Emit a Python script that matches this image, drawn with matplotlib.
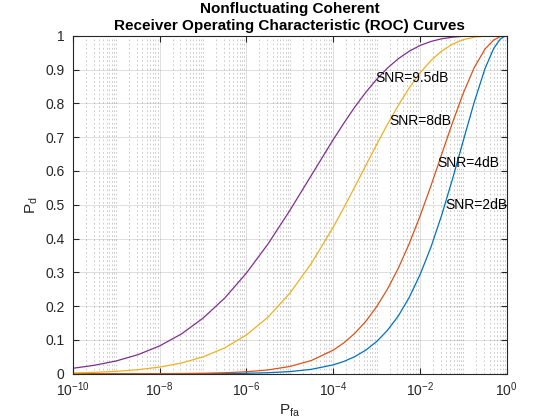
import numpy as np
import matplotlib
matplotlib.use("Agg")
import matplotlib.pyplot as plt

plt.rcParams["font.family"] = ["Liberation Sans", "DejaVu Sans"]
plt.rcParams["mathtext.fontset"] = "custom"
plt.rcParams["mathtext.rm"] = "Liberation Sans"
plt.rcParams["mathtext.it"] = "Liberation Sans:italic"

# false alarm probabilities
pfa = [1e-10, 10**-9.5, 1e-9, 10**-8.5, 1e-8, 10**-7.5, 1e-7, 10**-6.5, 1e-6, 10**-5.5,
       1e-5, 10**-4.5, 1e-4, 10**-3.75, 10**-3.5, 10**-3.25, 1e-3, 10**-2.75, 10**-2.5,
       10**-2.25, 1e-2, 10**-1.75, 10**-1.5, 10**-1.25, 1e-1, 10**-0.75, 10**-0.5,
       0.5, 0.7, 0.9, 0.99, 1.0]

# detection probabilities for each SNR
pd_2db = [0.0, 0.0, 0.0, 0.0, 0.0001, 0.0001, 0.0003, 0.0007, 0.0015, 0.0032,
          0.0065, 0.0133, 0.0264, 0.0367, 0.0510, 0.0700, 0.0952, 0.1285, 0.1711,
          0.2254, 0.2928, 0.3738, 0.4694, 0.5765, 0.6908, 0.8037, 0.9035,
          0.9624, 0.9894, 0.9989, 1.0, 1.0]
pd_4db = [0.0, 0.0, 0.0001, 0.0002, 0.0004, 0.0008, 0.0016, 0.0031, 0.0060, 0.0115,
          0.0216, 0.0395, 0.0699, 0.0920, 0.1200, 0.1550, 0.1983, 0.2504, 0.3121,
          0.3844, 0.4662, 0.5552, 0.6494, 0.7431, 0.8309, 0.9059, 0.9609,
          0.9874, 0.9971, 0.9998, 1.0, 1.0]
pd_8db = [0.0025, 0.0043, 0.0073, 0.0121, 0.0199, 0.0317, 0.0500, 0.0766, 0.1149, 0.1678,
          0.2381, 0.3273, 0.4337, 0.4924, 0.5536, 0.6160, 0.6778, 0.7377, 0.7939,
          0.8452, 0.8897, 0.9262, 0.9549, 0.9751, 0.9883, 0.9956, 0.9989,
          0.9998, 1.0, 1.0, 1.0, 1.0]
pd_95db = [0.0163, 0.0252, 0.0380, 0.0565, 0.0824, 0.1176, 0.1645, 0.2239, 0.2979, 0.3844,
           0.4829, 0.5878, 0.6925, 0.7422, 0.7895, 0.8324, 0.8709, 0.9043, 0.9319,
           0.9541, 0.9710, 0.9829, 0.9909, 0.9957, 0.9983, 0.9995, 0.9999,
           1.0, 1.0, 1.0, 1.0, 1.0]

labels = ["SNR=2dB", "SNR=4dB", "SNR=8dB", "SNR=9.5dB"]
label_pfa = [10**-1.41, 10**-1.59, 10**-2.70, 10**-3.02]
label_pd = [0.500, 0.624, 0.749, 0.876]
colors = ["#0072BD", "#D95319", "#EDB120", "#7E2F8E"]

fig = plt.figure(figsize=(5.6, 4.2), dpi=100)
ax = fig.add_axes([0.13, 0.11, 0.775, 0.805])

for y, c in zip([pd_2db, pd_4db, pd_8db, pd_95db], colors):
    ax.plot(pfa, y, color=c, lw=0.9)

for t, xx, yy in zip(labels, label_pfa, label_pd):
    ax.text(xx, yy, t, fontsize=10, ha="left", va="center", color="black")

ax.set_xscale("log")
ax.set_xlim(1e-10, 1)
ax.set_ylim(0, 1)

major = [10.0**e for e in range(-10, 1, 2)]
ax.set_xticks(major)
ax.set_xticklabels(["$10^{%d}$" % e for e in range(-10, 1, 2)])
minor = [k * 10.0**e for e in range(-10, 0) for k in range(1, 10) if not (k == 1 and e % 2 == 0)]
ax.set_xticks(minor, minor=True)
ax.set_xticklabels([], minor=True)
ax.set_yticks(np.arange(0, 1.01, 0.1))
ax.set_yticklabels(["0"] + ["%.1f" % v for v in np.arange(0.1, 0.95, 0.1)] + ["1"])

ax.grid(True, which="major", color="#262626", alpha=0.15, lw=0.7)
ax.grid(True, which="minor", axis="x", color="#262626", alpha=0.28, lw=0.6, ls=(0, (2, 3)))

ax.tick_params(which="both", direction="in", top=True, right=True, colors="#262626",
               labelsize=10, labelcolor="#262626")
ax.tick_params(which="major", length=4)
ax.tick_params(which="minor", length=0)
ax.tick_params(axis="y", pad=6)
ax.tick_params(axis="x", pad=5)
for s in ax.spines.values():
    s.set_color("#262626")
    s.set_linewidth(0.8)

ax.set_xlabel("P$_{\\mathrm{fa}}$", fontsize=11, color="#262626", labelpad=2)
ax.set_ylabel("P$_{\\mathrm{d}}$", fontsize=11, color="#262626")
ax.set_title("Nonfluctuating Coherent\nReceiver Operating Characteristic (ROC) Curves",
             fontsize=11, fontweight="bold", color="black", linespacing=1.3, pad=4)

fig.savefig("out.png", dpi=100)
